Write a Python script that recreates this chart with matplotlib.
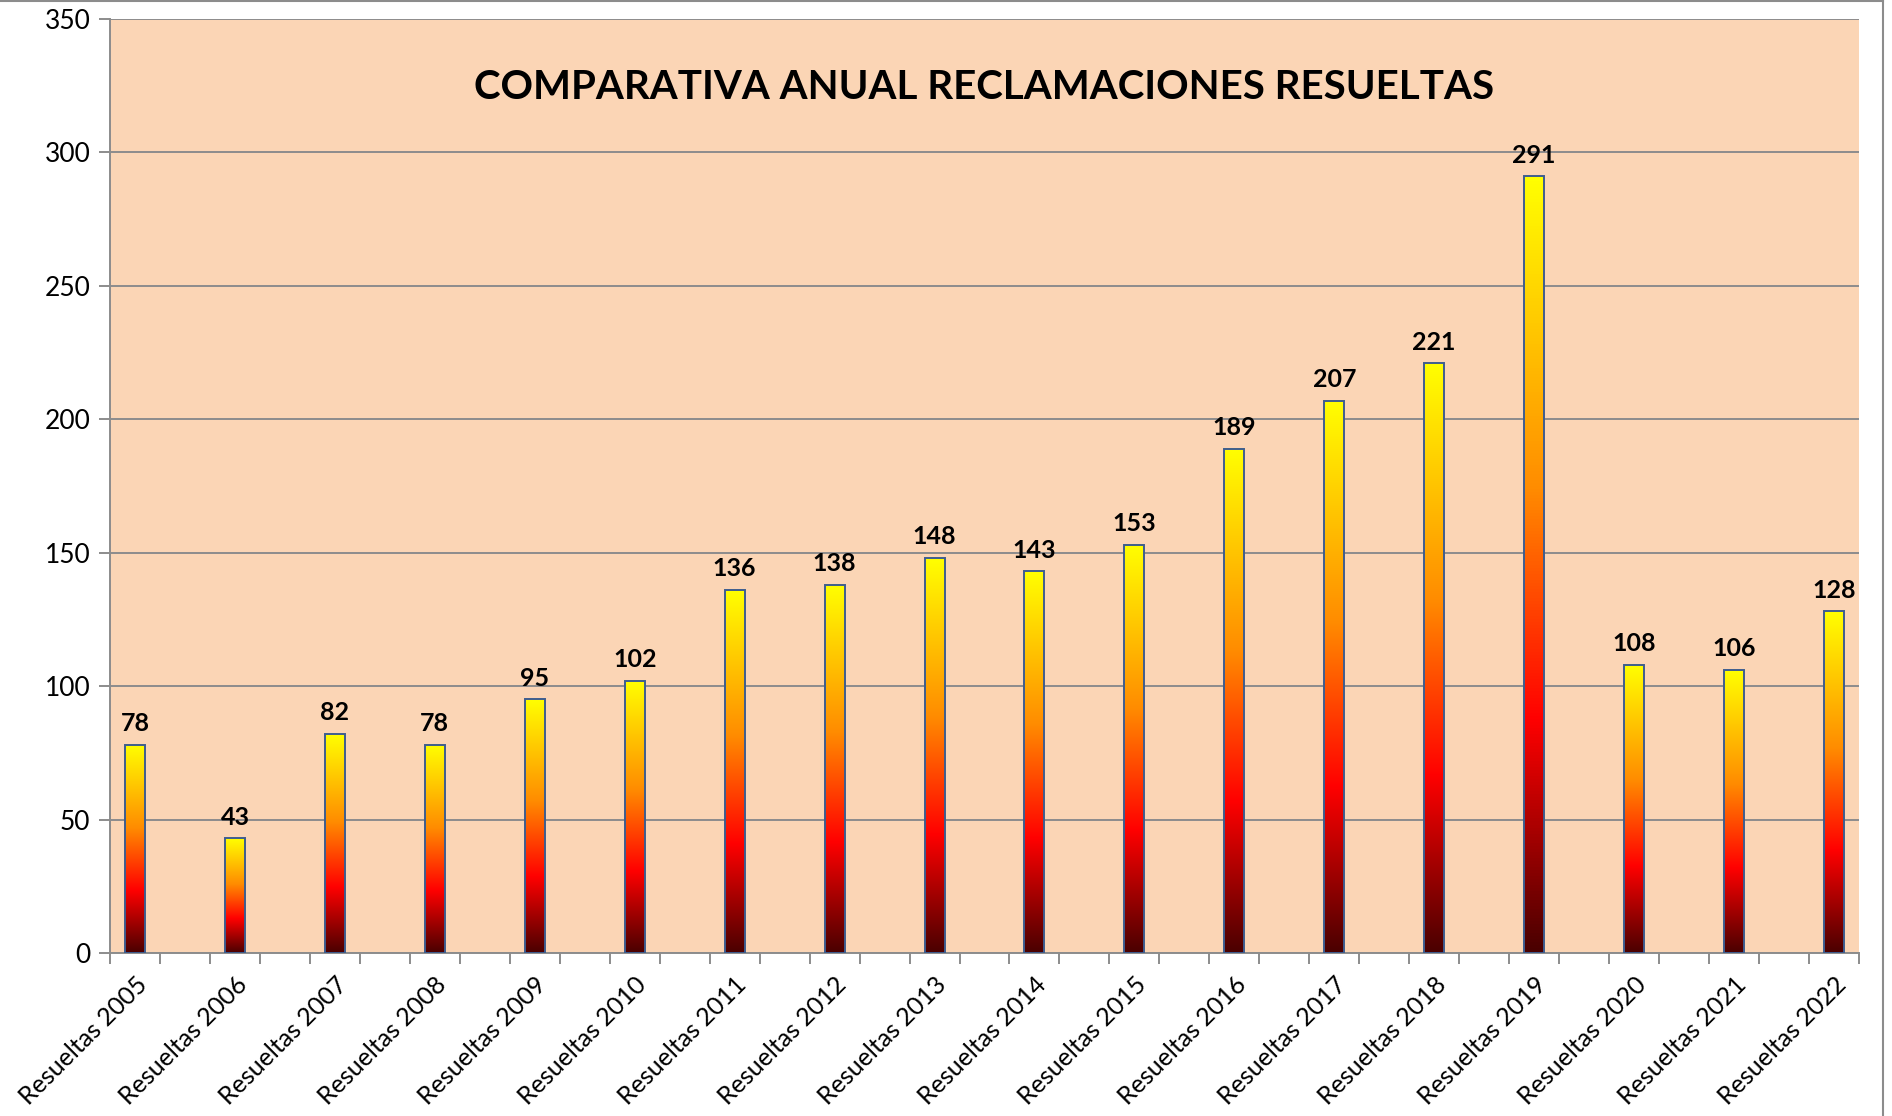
import numpy as np
import matplotlib
matplotlib.use("Agg")
import matplotlib.pyplot as plt
from matplotlib.colors import LinearSegmentedColormap
from matplotlib.lines import Line2D

years = [2005, 2006, 2007, 2008, 2009, 2010, 2011, 2012, 2013, 2014,
         2015, 2016, 2017, 2018, 2019, 2020, 2021, 2022]
labels = [f"Resueltas {y}" for y in years]
values = [78, 43, 82, 78, 95, 102, 136, 138, 148, 143, 153, 189, 207, 221,
          291, 108, 106, 128]
title = "COMPARATIVA ANUAL RECLAMACIONES RESUELTAS"

plt.rcParams['font.family'] = ['Lato', 'DejaVu Sans']

W, H = 1892, 1116
fig = plt.figure(figsize=(W / 100, H / 100), dpi=100)
ax = fig.add_axes([110 / W, 1 - 953 / H, (1859 - 110) / W, (953 - 19) / H])
ax.set_facecolor('#fbd5b5')

# every bar followed by an empty category slot
pos = np.arange(len(values)) * 2
ax.set_yticks(np.arange(0, 351, 50))
ax.yaxis.grid(True, color='#8c8c8c', linewidth=1.4, zorder=0)
ax.set_axisbelow(True)

bars = ax.bar(pos, values, width=0.4, facecolor='none',
              edgecolor='#3d5d8f', linewidth=1.4, zorder=4)

cmap = LinearSegmentedColormap.from_list(
    'fire', [(0.0, '#4a0000'), (0.3, '#ff0000'), (0.6, '#ff8c00'),
             (1.0, '#ffff00')])
grad = np.linspace(0, 1, 256).reshape(-1, 1)
for b in bars:
    x0, w, h = b.get_x(), b.get_width(), b.get_height()
    ax.imshow(grad, cmap=cmap, origin='lower', aspect='auto',
              extent=(x0, x0 + w, 0, h), zorder=3, interpolation='bilinear')
    ax.annotate(f"{int(h)}", (x0 + w / 2, h), xytext=(0, 7),
                textcoords='offset points', ha='center', va='bottom',
                fontsize=18, fontweight='bold', color='black')
ax.set_xlim(-0.5, pos[-1] + 0.5)
ax.set_ylim(0, 350)

ax.set_xticks(np.arange(-0.5, pos[-1] + 1, 1))
ax.set_xticklabels([])
ax.set_xticks(pos, minor=True)
ax.set_xticklabels(labels, minor=True, rotation=45, ha='right',
                   rotation_mode='anchor', fontsize=18)
ax.tick_params(axis='x', which='minor', length=0, pad=14)
ax.tick_params(axis='x', which='major', length=8, width=1.4, color='#8c8c8c')
ax.tick_params(axis='y', length=8, width=1.4, color='#8c8c8c', labelsize=19,
               pad=6)

for s in ['top', 'right']:
    ax.spines[s].set_visible(False)
for s in ['left', 'bottom']:
    ax.spines[s].set_color('#8c8c8c')
    ax.spines[s].set_linewidth(1.4)

ax.text(0.5, 0.927, title, transform=ax.transAxes, ha='center', va='center',
        fontsize=29, fontweight='bold', color='black')

fig.add_artist(Line2D([0, 1883 / W], [1 - 0.5 / H, 1 - 0.5 / H],
                      color='#8c8c8c', linewidth=1.5))
fig.add_artist(Line2D([1883 / W, 1883 / W], [0, 1],
                      color='#8c8c8c', linewidth=1.5))

fig.savefig('out.png', dpi=100, facecolor='white')
